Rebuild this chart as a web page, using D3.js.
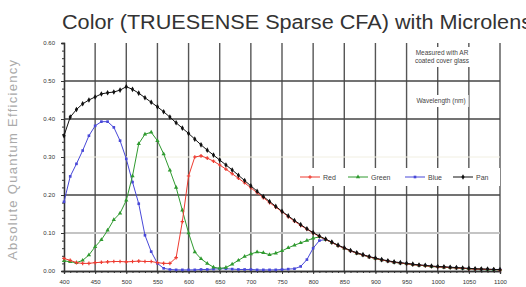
<!DOCTYPE html>
<meta charset="utf-8">
<script src="https://d3js.org/d3.v7.min.js"></script>
<style>
  body { margin: 0; background: #fff; }
  text { font-family: "Liberation Sans", Arial, sans-serif; }
</style>
<div id="chart"></div>
<script>
  var width = 526, height = 287;

  // wavelength (nm), one point every 10 nm
  var wavelengths = [400,410,420,430,440,450,460,470,480,490,500,510,520,530,540,550,560,570,580,590,
    600,610,620,630,640,650,660,670,680,690,700,710,720,730,740,750,760,770,780,790,
    800,810,820,830,840,850,860,870,880,890,900,910,920,930,940,950,960,970,980,990,
    1000,1010,1020,1030,1040,1050,1060,1070,1080,1090,1100];

  var pan = [.356,.405,.425,.440,.450,.458,.466,.469,.471,.476,
    .485,.478,.468,.456,.444,.432,.419,.405,.390,.376,
    .362,.347,.332,.318,.305,.292,.279,.266,.252,.238,
    .224,.210,.196,.183,.170,.157,.145,.133,.122,.111,
    .101,.092,.084,.076,.068,.061,.054,.048,.043,.038,
    .034,.030,.027,.024,.022,.020,.018,.016,.015,.013,
    .012,.011,.010,.009,.008,.007,.006,.005,.005,.004,.004];

  var blue = [.182,.249,.282,.317,.356,.382,.393,.393,.378,.343,
    .295,.234,.177,.094,.051,.020,.007,.004,.003,.003,
    .003,.003,.004,.004,.005,.006,.006,.005,.004,.004,
    .004,.003,.003,.003,.003,.004,.005,.006,.012,.030,
    .060,.080,.083,.075,.067,.060,.053,.047,.042,.037,
    .033,.029,.026,.023,.021,.019,.017,.015,.014,.012,
    .011,.010,.009,.008,.007,.006,.005,.005,.004,.004,.003];

  var green = [.027,.024,.022,.028,.042,.064,.082,.107,.135,.152,
    .186,.250,.335,.360,.365,.343,.308,.265,.220,.160,
    .100,.050,.032,.020,.010,.007,.009,.018,.028,.038,
    .045,.050,.048,.043,.047,.053,.061,.068,.074,.080,
    .086,.090,.083,.075,.067,.060,.053,.047,.042,.037,
    .033,.029,.026,.023,.021,.019,.017,.015,.014,.012,
    .011,.010,.009,.008,.007,.006,.005,.005,.004,.004,.003];

  var red = [.033,.028,.022,.020,.020,.022,.023,.024,.025,.025,
    .024,.025,.026,.025,.025,.022,.020,.020,.035,.130,
    .250,.300,.303,.297,.289,.279,.268,.256,.244,.232,
    .219,.206,.193,.180,.168,.156,.143,.131,.120,.110,
    .100,.091,.083,.075,.067,.060,.053,.047,.042,.037,
    .033,.029,.026,.023,.021,.019,.017,.015,.014,.012,
    .011,.010,.009,.008,.007,.006,.005,.005,.004,.004,.003];

  var xTicks = [400,450,500,550,600,650,700,750,800,850,900,950,1000,1050,1100];
  var yTicks = [0,0.1,0.2,0.3,0.4,0.5,0.6];

  var series = [
    { name: "Blue", values: blue, color: "#4848d8", symbol: d3.symbolSquare, size: 7 },
    { name: "Green", values: green, color: "#2f9a2f", symbol: d3.symbolTriangle, size: 8 },
    { name: "Red", values: red, color: "#ee3b30", symbol: d3.symbolCross, size: 7 },
    { name: "Pan", values: pan, color: "#111", symbol: d3.symbolDiamond, size: 9 }
  ];
  var legendOrder = ["Red", "Green", "Blue", "Pan"];

  var x = d3.scaleLinear().domain([400, 1100]).range([64, 500]);
  var y = d3.scaleLinear().domain([0, 0.6]).range([271, 43]);

  var svg = d3.select("#chart").append("svg")
    .attr("width", width)
    .attr("height", height);

  // title (runs off the right edge like the original)
  svg.append("text")
    .attr("x", 62).attr("y", 29)
    .attr("font-size", 19.5)
    .attr("fill", "#333")
    .attr("textLength", 470)
    .attr("lengthAdjust", "spacingAndGlyphs")
    .text("Color (TRUESENSE Sparse CFA) with Microlens");

  // y axis title
  svg.append("text")
    .attr("transform", "translate(17,160) rotate(-90)")
    .attr("text-anchor", "middle")
    .attr("font-size", 13)
    .attr("fill", "#aaa")
    .attr("textLength", 200)
    .attr("lengthAdjust", "spacing")
    .text("Absolute Quantum Efficiency");

  // grid
  var grid = svg.append("g");
  grid.selectAll(".vg").data(xTicks.slice(1)).join("line")
    .attr("x1", d => x(d)).attr("x2", d => x(d))
    .attr("y1", y(0.6)).attr("y2", y(0))
    .attr("stroke", "#555").attr("stroke-width", 1.4);

  var hStyle = { 0.1: ["#c4c4c4", 2.2], 0.2: ["#444", 1.4], 0.3: ["#f1efe2", 1], 0.4: ["#444", 1.4], 0.5: ["#444", 1.4] };
  grid.selectAll(".hg").data([0.1, 0.2, 0.3, 0.4, 0.5]).join("line")
    .attr("x1", x(400)).attr("x2", x(1100))
    .attr("y1", d => y(d)).attr("y2", d => y(d))
    .attr("stroke", d => hStyle[d][0]).attr("stroke-width", d => hStyle[d][1]);

  // axes
  var yAxis = svg.append("g")
    .attr("transform", "translate(" + x(400) + ",0)")
    .call(d3.axisLeft(y).tickValues(yTicks).tickFormat(d3.format(".2f")).tickSize(3));
  svg.append("g")
    .attr("transform", "translate(" + x(400) + ",0)")
    .call(d3.axisLeft(y).ticks(30).tickFormat("").tickSize(2));
  var xAxis = svg.append("g")
    .attr("transform", "translate(0," + y(0) + ")")
    .call(d3.axisBottom(x).tickValues(xTicks).tickFormat(d => String(d)).tickSize(3));
  svg.append("g")
    .attr("transform", "translate(0," + y(0) + ")")
    .call(d3.axisBottom(x).tickValues(wavelengths).tickFormat("").tickSize(2));

  svg.selectAll(".domain").attr("stroke", "#333").attr("stroke-width", 1.3);
  svg.selectAll(".tick line").attr("stroke", "#333");
  yAxis.selectAll("text").attr("font-size", 6).attr("fill", "#333").attr("x", -9);
  xAxis.selectAll("text").attr("font-size", 6).attr("fill", "#333").attr("dy", "1.2em");

  // data
  var line = d3.line().x((d, i) => x(wavelengths[i])).y(d => y(d));
  series.forEach(function (s) {
    var g = svg.append("g");
    g.append("path")
      .attr("d", line(s.values))
      .attr("fill", "none")
      .attr("stroke", s.color)
      .attr("stroke-width", 1);
    g.selectAll("path.m").data(s.values).join("path")
      .attr("class", "m")
      .attr("transform", (d, i) => "translate(" + x(wavelengths[i]) + "," + y(d) + ")")
      .attr("d", d3.symbol().type(s.symbol).size(s.size))
      .attr("fill", s.color);
  });

  // note boxes
  function note(lines, cx, y0, lh) {
    var g = svg.append("g");
    var bg = g.append("rect").attr("fill", "#fff");
    var t = g.append("text").attr("text-anchor", "middle").attr("font-size", 6.5).attr("fill", "#444");
    lines.forEach(function (l, i) {
      t.append("tspan").attr("x", cx).attr("y", y0 + i * lh).text(l);
    });
    var b = t.node().getBBox();
    bg.attr("x", b.x - 3).attr("y", b.y - 2).attr("width", b.width + 6).attr("height", b.height + 4);
  }
  note(["Measured with AR", "coated cover glass"], 442, 55, 8);
  note(["Wavelength (nm)"], 441, 103, 8);

  // legend
  var leg = svg.append("g");
  leg.append("rect")
    .attr("x", 292).attr("y", 168).attr("width", 208).attr("height", 18)
    .attr("fill", "#fff");
  var legX = [300, 348, 405, 453];
  legendOrder.forEach(function (name, i) {
    var s = series.find(d => d.name === name);
    var lx = legX[i];
    leg.append("line")
      .attr("x1", lx).attr("x2", lx + 20).attr("y1", 177).attr("y2", 177)
      .attr("stroke", s.color).attr("stroke-width", 1);
    leg.append("path")
      .attr("transform", "translate(" + (lx + 10) + ",177)")
      .attr("d", d3.symbol().type(s.symbol).size(s.size))
      .attr("fill", s.color);
    leg.append("text")
      .attr("x", lx + 23).attr("y", 179.5)
      .attr("font-size", 7).attr("fill", "#444")
      .text(name);
  });
</script>
